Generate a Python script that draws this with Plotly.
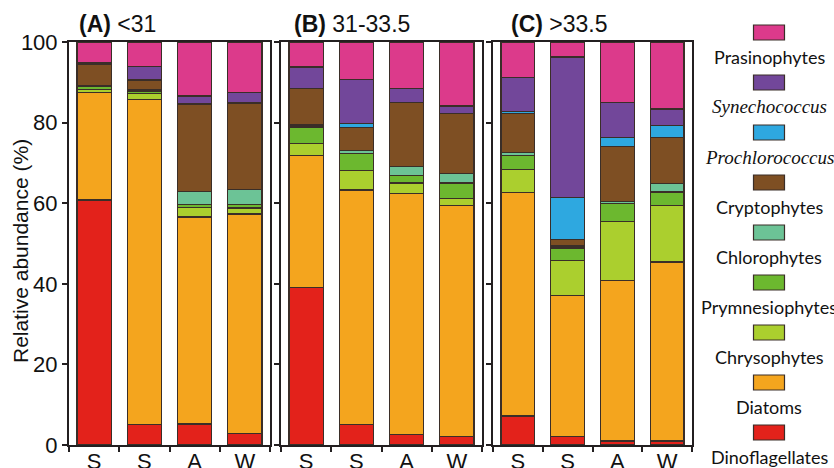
import plotly.graph_objects as go

# ---- data -------------------------------------------------------------
panel_titles = ["<b>(A)</b> &lt;31", "<b>(B)</b> 31-33.5", "<b>(C)</b> &gt;33.5"]
samples = ["S", "S", "A", "W"]

# values in panel order: A(S,S,A,W), B(S,S,A,W), C(S,S,A,W)
dinoflagellates = [60.8, 5.0, 5.2, 2.9,   39.1, 5.0, 2.7, 2.1,   7.2, 2.2, 1.0, 1.0]
diatoms         = [26.6, 80.7, 51.4, 54.4, 32.7, 58.3, 59.8, 57.3, 55.5, 34.8, 39.9, 44.4]
chrysophytes    = [0.9, 1.5, 2.3, 1.5,    3.0, 4.9, 2.5, 1.8,    5.7, 8.7, 14.5, 14.0]
prymnesiophytes = [0.6, 0.6, 0.8, 0.8,    4.1, 4.1, 1.9, 3.8,    3.5, 3.2, 4.5, 3.4]
chlorophytes    = [0.3, 0.3, 3.2, 3.9,    0.5, 0.7, 2.2, 2.3,    0.6, 0.5, 0.6, 2.1]
cryptophytes    = [5.3, 2.3, 21.7, 21.2,  9.1, 5.8, 15.9, 14.9,  9.7, 1.6, 13.6, 11.4]
prochlorococcus = [0.1, 0.2, 0.2, 0.2,    0.0, 0.9, 0.0, 0.0,    0.6, 10.5, 2.2, 2.9]
synechococcus   = [0.4, 3.3, 1.8, 2.6,    5.3, 11.0, 3.5, 1.9,   8.4, 34.8, 8.6, 4.2]
prasinophytes   = [5.0, 6.1, 13.4, 12.5,  6.2, 9.3, 11.5, 15.9,  8.8, 3.7, 15.1, 16.6]

taxa_names = ["Dinoflagellates", "Diatoms", "Chrysophytes", "Prymnesiophytes",
              "Chlorophytes", "Cryptophytes", "<i>Prochlorococcus</i>",
              "<i>Synechococcus</i>", "Prasinophytes"]
taxa_values = [dinoflagellates, diatoms, chrysophytes, prymnesiophytes,
               chlorophytes, cryptophytes, prochlorococcus, synechococcus,
               prasinophytes]
taxa_colors = ["#E3221B", "#F4A51E", "#ABCF2E", "#6CB82F", "#6CC396",
               "#7E4F23", "#2EA8E0", "#72479A", "#DC3A8B"]

# ---- figure -----------------------------------------------------------
W, H = 834, 468
L, R, T, B = 69, 692, 42, 445
pw = R - L
panels_px = [(69, 270), (281, 482), (493, 692)]
domains = [((a - L) / pw, (b - L) / pw) for a, b in panels_px]

LINE = "#231F20"
fig = go.Figure()
x_pos = list(range(len(samples)))

for p in range(3):
    xa = "x" if p == 0 else f"x{p+1}"
    ya = "y" if p == 0 else f"y{p+1}"
    for name, vals, col in zip(taxa_names, taxa_values, taxa_colors):
        fig.add_trace(go.Bar(
            x=x_pos, y=vals[p*4:(p+1)*4], name=name,
            marker=dict(color=col, line=dict(color="#3A2E28", width=1.2)),
            width=0.68, xaxis=xa, yaxis=ya, showlegend=False,
        ))

axis_font = dict(family="Liberation Sans, Arial", size=22, color="#111")
for p in range(3):
    sfx = "" if p == 0 else str(p + 1)
    fig.layout["xaxis" + sfx] = dict(
        domain=list(domains[p]), range=[-0.5, 3.5], anchor="y" + sfx,
        tickmode="array", tickvals=x_pos, ticktext=samples, ticks="",
        ticklabelstandoff=-4,
        tickfont=axis_font, showline=True, mirror=True, linewidth=2,
        linecolor=LINE, showgrid=False, zeroline=False, fixedrange=True,
        automargin=False,
        minor=dict(tickmode="linear", tick0=-0.5, dtick=1, ticks="outside",
                   ticklen=5, tickwidth=1.5, tickcolor=LINE, showgrid=False),
    )
    fig.layout["yaxis" + sfx] = dict(
        domain=[0, 1], range=[0, 100], anchor="x" + sfx,
        tickvals=[0, 20, 40, 60, 80, 100], ticks="outside", ticklen=5,
        tickwidth=1.5, tickcolor=LINE, showticklabels=(p == 0),
        tickfont=axis_font, showline=True, mirror=True, linewidth=2,
        linecolor=LINE, showgrid=False, zeroline=False, fixedrange=True,
        automargin=False,
    )

fig.update_layout(
    barmode="stack", width=W, height=H,
    margin=dict(l=L, r=W - R, t=T, b=H - B, pad=0, autoexpand=False),
    paper_bgcolor="white", plot_bgcolor="white", showlegend=False,
)

def px_x(x):
    return (x - L) / pw

def px_y(y):
    return (B - y) / (B - T)

annotations = []
title_x = [77, 292, 509]
for p in range(3):
    annotations.append(dict(
        text=panel_titles[p], x=px_x(title_x[p]), y=px_y(24), xref="paper",
        yref="paper", xanchor="left", yanchor="middle", showarrow=False,
        font=dict(family="Liberation Sans, Arial", size=23, color="#111"),
    ))
annotations.append(dict(
    text="Relative abundance (%)", x=px_x(20), y=px_y(251), xref="paper",
    yref="paper", xanchor="center", yanchor="middle", textangle=-90,
    showarrow=False, font=dict(family="Liberation Sans, Arial", size=21, color="#111"),
))

# custom legend: box above label, top-down order Prasinophytes -> Dinoflagellates
shapes = []
leg_cx = 769
for i, k in enumerate(reversed(range(len(taxa_names)))):
    top = 25 + 50 * i
    shapes.append(dict(
        type="rect", xref="paper", yref="paper",
        x0=px_x(leg_cx - 15.5), x1=px_x(leg_cx + 15.5),
        y0=px_y(top + 15), y1=px_y(top),
        fillcolor=taxa_colors[k], line=dict(color="#3A2E28", width=1.2),
    ))
    italic = taxa_names[k].startswith("<i>")
    annotations.append(dict(
        text=taxa_names[k], x=px_x(leg_cx), y=px_y(top + 32), xref="paper",
        yref="paper", xanchor="center", yanchor="middle", showarrow=False,
        font=dict(family="Liberation Serif, Times New Roman" if italic else "Lato, Carlito, sans-serif",
                  size=19 if italic else 18, color="#111"),
    ))

fig.update_layout(annotations=annotations, shapes=shapes)
fig.write_html("out.html", config={"displayModeBar": False},
               post_script="document.body.style.margin='0';document.body.style.overflow='hidden';")
